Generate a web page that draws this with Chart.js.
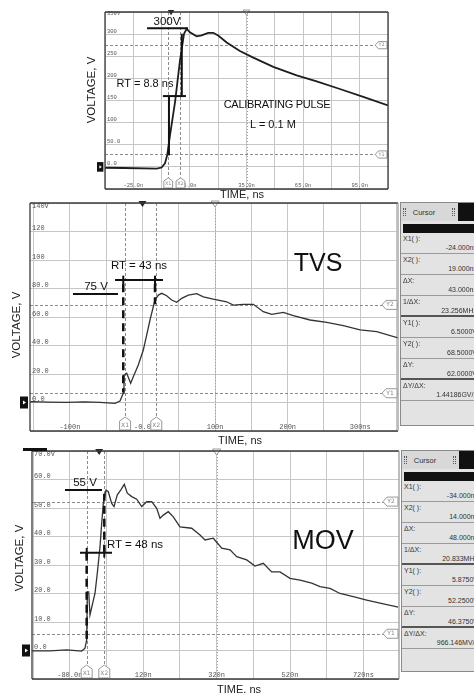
<!DOCTYPE html>
<html>
<head>
<meta charset="utf-8">
<script src="https://cdn.jsdelivr.net/npm/chart.js@4.4.1/dist/chart.umd.min.js"></script>
<style>
html, body { margin: 0; padding: 0; background: #fff; }
body { width: 474px; height: 695px; position: relative; overflow: hidden; font-family: "Liberation Sans", Arial, sans-serif; color: #111; }
canvas { position: absolute; }
.t { position: absolute; transform: translate(-50%, -50%); white-space: nowrap; line-height: 1; }
.v { transform: translate(-50%, -50%) rotate(-90deg); }
.panel { position: absolute; left: 400px; width: 82px; background: #e3e3e3; border: 1px solid #8a8a8a; font: 7px "Liberation Sans", Arial, sans-serif; color: #333; overflow: hidden; }
.hdr { position: relative; height: 18px; background: #d8d8d8; }
.hdr .nm { position: absolute; left: 23px; top: 9px; transform: translate(-50%, -50%); font-size: 7.5px; }
.hdr .g { position: absolute; top: 5px; width: 1px; height: 8px; border-left: 1px dotted #555; border-right: 1px dotted #555; }
.hdr .blk { position: absolute; left: 57px; top: 0; width: 30px; height: 18px; background: #111; }
.bar { margin: 3px 0 0 2px; height: 9px; background: #111; }
.row { position: relative; height: 20px; border-bottom: 1px solid #9a9a9a; }
.row.thick { height: 19px; border-bottom: 2px solid #555; }
.lab { position: absolute; left: 2px; top: 1px; line-height: 9px; }
.val { position: absolute; right: 6px; top: 10px; line-height: 9px; }
</style>
</head>
<body>
<canvas id="cal" width="298" height="186" style="left:95px;top:4px"></canvas>
<canvas id="tvs" width="380" height="240" style="left:20px;top:195px"></canvas>
<canvas id="mov" width="382" height="240" style="left:20px;top:443px"></canvas>

<div style="position:absolute;left:23px;top:448px;width:24px;height:3px;background:#111"></div>

<div class="t" style="left:167px;top:22px;font-size:11.5px">300V</div>
<div class="t" style="left:145px;top:83px;font-size:11px">RT = 8.8 ns</div>
<div class="t" style="left:277px;top:104px;font-size:11px;letter-spacing:-0.3px">CALIBRATING PULSE</div>
<div class="t" style="left:273px;top:124px;font-size:11px">L = 0.1 M</div>
<div class="t v" style="left:92px;top:90px;font-size:11.5px;color:#222">VOLTAGE, V</div>
<div class="t" style="left:242px;top:194px;font-size:11px;color:#222">TIME, ns</div>

<div class="t" style="left:318px;top:262px;font-size:25px">TVS</div>
<div class="t" style="left:139px;top:266px;font-size:11.5px">RT = 43 ns</div>
<div class="t" style="left:96px;top:287px;font-size:11.5px">75 V</div>
<div class="t v" style="left:17px;top:325px;font-size:11.5px;color:#222">VOLTAGE, V</div>
<div class="t" style="left:240px;top:440px;font-size:11px;color:#222">TIME, ns</div>

<div class="t" style="left:323px;top:540px;font-size:27px">MOV</div>
<div class="t" style="left:85px;top:483px;font-size:11.5px">55 V</div>
<div class="t" style="left:135px;top:545px;font-size:11.5px">RT = 48 ns</div>
<div class="t v" style="left:20px;top:558px;font-size:11.5px;color:#222">VOLTAGE, V</div>
<div class="t" style="left:239px;top:689px;font-size:11px;color:#222">TIME. ns</div>

<div class="panel" id="tvsPanel" style="top:202px;height:222px">
  <div class="hdr"><span class="g" style="left:2px"></span><span class="nm">Cursor</span><span class="g" style="left:51px"></span><span class="blk"></span></div>
  <div class="bar"></div>
</div>
<div class="panel" id="movPanel" style="top:450px;left:401px;height:220px">
  <div class="hdr"><span class="g" style="left:2px"></span><span class="nm">Cursor</span><span class="g" style="left:51px"></span><span class="blk"></span></div>
  <div class="bar"></div>
</div>

<script>
// calibrating pulse, L = 0.1 M
const calTime = [-40, -30, -12.6, -10, -8.2, -7, -5.6, -2.9, -0.3, 1.9, 3.3, 5, 8.6, 11.2, 14.7, 17.4, 20, 24.5, 31.5, 38.6, 49.2, 61.6, 72.2, 84.5, 96.9, 110];
const calVolt = [-2, -2.5, -4, -1.5, 8, 27, 70, 146, 239, 301, 312, 304, 295, 297, 303, 303, 297, 281, 262, 247, 226, 207, 193, 176, 158, 139];
const calXTicks = [-25, 5, 35, 65, 95];
const calXLabels = ['-25.0n', '5.0n', '35.0n', '65.0n', '95.0n'];
const calYTicks = [0, 50, 100, 150, 200, 250, 300, 350];
const calYLabels = ['0.0', '50.0', '100', '150', '200', '250', '300', '350V'];
const calCursorX = [-6.5, 0];
const calCursorY = [28, 275];
const calBars = [[-17.7, 313, 4, 313], [-9.3, 160, 2.9, 160], [-6.1, 160, -6.1, 26], [0.7, 301, 0.7, 158]];
const calDashes = [];

// TVS
const tvsTime = [-155, -152.7, -130, -104.4, -80, -58.6, -37.9, -31, -26.5, -25.5, -21.8, -16.3, -12.7, -5.8, 1.1, 5.8, 10.3, 17.2, 21.8, 26.5, 33.3, 40.2, 47.1, 54, 63.1, 74.7, 83.8, 97.5, 116, 125.1, 138.9, 152.7, 166.4, 178, 194, 207.8, 230.8, 253.8, 276.7, 299.7, 322.7, 352];
const tvsVolt = [0.5, 0.6, 0.3, 0.1, 0.4, 0.1, -0.6, 1, 6.5, 19.3, 20.5, 13.5, 18.1, 26.3, 36.8, 47.4, 57.9, 71.9, 75.4, 76.6, 74.9, 71.9, 70.3, 73.1, 75.4, 76.4, 74.2, 72.6, 70.7, 68.4, 68.9, 68.9, 63.7, 61.9, 63.3, 60.9, 57.9, 56.3, 53.9, 50.9, 49.7, 45.3];
const tvsXTicks = [-100, 0, 100, 200, 300];
const tvsXLabels = ['-100n', '-0.0', '100n', '200n', '300ns'];
const tvsYTicks = [0, 20, 40, 60, 80, 100, 120, 140];
const tvsYLabels = ['0.0', '20.0', '40.0', '60.0', '80.0', '100', '120', '140V'];
const tvsCursorX = [-24, 19];
const tvsCursorY = [6.5, 68.5];
const tvsBars = [[-95.8, 76.1, -33.8, 76.1], [-37.9, 86, 28.2, 86], [-26.5, 89, -26.5, 82.5], [17.2, 89, 17.2, 82.5]];
const tvsDashes = [[-26.5, 83, -26.5, 7], [17.2, 83, 17.2, 69]];

// MOV
const movTime = [-183, -179.5, -134, -88.4, -47.6, -38.6, -34, -32.3, -28.5, -25, -17.6, -11.3, -5.1, 2.3, 6.9, 11.3, 18.6, 24.9, 34.2, 40.4, 49.4, 58.7, 68.5, 76.7, 88.7, 102.3, 115.9, 129.5, 143.2, 156.8, 165.8, 174.8, 188.4, 202, 220.3, 252.1, 274.8, 288.4, 311, 333.9, 356.5, 374.8, 402, 424.6, 447.2, 470.1, 492.7, 520, 547.2, 579.1, 601.7, 629, 656.2, 692.5, 729, 765.2, 815.1];
const movVolt = [-0.1, -0.1, -0.1, 0.2, -0.2, 0.8, 3.7, 20.6, 20.6, 12.5, 16.6, 20.1, 27.1, 36.4, 44.6, 51.6, 56.3, 55.7, 51.6, 50.5, 54.6, 56.3, 58.3, 55.2, 54, 53.1, 50.5, 52.2, 52.2, 49.9, 46.4, 47.5, 48.7, 46.9, 43.4, 42.9, 40.5, 38.8, 39.4, 35.9, 35.3, 32.9, 31.8, 29.6, 30.6, 27.6, 27.6, 25.3, 24.7, 23.6, 22.4, 21.8, 20, 18.9, 17.7, 16.6, 15.2];
const movXTicks = [-80, 120, 320, 520, 720];
const movXLabels = ['-80.0n', '120n', '320n', '520n', '720ns'];
const movYTicks = [0, 10, 20, 30, 40, 50, 60, 70];
const movYLabels = ['0.0', '10.0', '20.0', '30.0', '40.0', '50.0', '60.0', '70.0V'];
const movCursorX = [-34, 14];
const movCursorY = [5.875, 52.25];
const movBars = [[-93.1, 56.3, 7.7, 56.3], [-52.2, 34.3, 35, 34.3], [-34, 36, -34, 32.6], [14, 36, 14, 32.6]];
const movDashes = [[-34, 34.3, -34, 3.7], [14, 34.3, 14, 55]];

const readoutNames = ['X1( ):', 'X2( ):', '\u0394X:', '1/\u0394X:', 'Y1( ):', 'Y2( ):', '\u0394Y:', '\u0394Y/\u0394X:'];
const tvsReadout = ['-24.000ns', '19.000ns', '43.000ns', '23.256MHz', '6.5000V', '68.5000V', '62.0000V', '1.44186GV/s'];
const movReadout = ['-34.000ns', '14.000ns', '48.000ns', '20.833MHz', '5.8750V', '52.2500V', '46.3750V', '966.146MV/s'];

function seg(ctx, x1, y1, x2, y2) {
    ctx.beginPath();
    ctx.moveTo(x1, y1);
    ctx.lineTo(x2, y2);
    ctx.stroke();
}

const scopeDecor = {
    id: 'scopeDecor',
    beforeDatasetsDraw(chart, args, o) {
        const { ctx, chartArea: a, scales: { x, y } } = chart;
        ctx.save();
        ctx.lineWidth = 1;
        ctx.strokeStyle = '#a0a0a0';
        ctx.setLineDash([1, 2]);
        const c = Math.round(x.getPixelForValue(o.center)) + 0.5;
        seg(ctx, c, a.top, c, a.bottom);
        ctx.setLineDash([3, 2]);
        ctx.strokeStyle = '#8c8c8c';
        o.cursorX.forEach((v) => {
            const p = Math.round(x.getPixelForValue(v)) + 0.5;
            seg(ctx, p, a.top, p, a.bottom);
        });
        o.cursorY.forEach((v) => {
            const p = Math.round(y.getPixelForValue(v)) + 0.5;
            seg(ctx, a.left, p, a.right, p);
        });
        ctx.restore();
    },
    afterDatasetsDraw(chart, args, o) {
        const { ctx, chartArea: a, scales: { x, y } } = chart;
        const k = o.scale;
        ctx.save();
        // annotation bars
        ctx.strokeStyle = '#111';
        ctx.lineWidth = 2;
        o.bars.forEach((b) => seg(ctx, x.getPixelForValue(b[0]), y.getPixelForValue(b[1]), x.getPixelForValue(b[2]), y.getPixelForValue(b[3])));
        ctx.lineWidth = 2.5;
        ctx.setLineDash([8, 5]);
        o.dashes.forEach((b) => seg(ctx, x.getPixelForValue(b[0]), y.getPixelForValue(b[1]), x.getPixelForValue(b[2]), y.getPixelForValue(b[3])));
        ctx.setLineDash([]);

        // cursor tags
        ctx.lineWidth = 1;
        ctx.font = (6 * k) + 'px "DejaVu Sans"';
        ctx.textAlign = 'center';
        ctx.textBaseline = 'middle';
        o.cursorX.forEach((v, i) => {
            const p = x.getPixelForValue(v);
            const b = a.bottom;
            ctx.beginPath();
            ctx.moveTo(p - 5.5 * k, b - 1);
            ctx.lineTo(p - 5.5 * k, b - 10 * k);
            ctx.lineTo(p, b - 14 * k);
            ctx.lineTo(p + 5.5 * k, b - 10 * k);
            ctx.lineTo(p + 5.5 * k, b - 1);
            ctx.closePath();
            ctx.fillStyle = '#fff';
            ctx.fill();
            ctx.strokeStyle = '#999';
            ctx.stroke();
            ctx.fillStyle = '#888';
            ctx.fillText('X' + (i + 1), p, b - 6 * k);
        });
        o.cursorY.forEach((v, i) => {
            const p = y.getPixelForValue(v);
            const r = a.right;
            ctx.beginPath();
            ctx.moveTo(r - 1, p - 4.5 * k);
            ctx.lineTo(r - 12 * k, p - 4.5 * k);
            ctx.lineTo(r - 16 * k, p);
            ctx.lineTo(r - 12 * k, p + 4.5 * k);
            ctx.lineTo(r - 1, p + 4.5 * k);
            ctx.closePath();
            ctx.fillStyle = '#fff';
            ctx.fill();
            ctx.strokeStyle = '#999';
            ctx.stroke();
            ctx.fillStyle = '#888';
            ctx.fillText('Y' + (i + 1), r - 8 * k, p);
        });

        // trigger and centre markers on the top edge
        const tp = x.getPixelForValue(o.trigger);
        ctx.beginPath();
        ctx.moveTo(tp - 4 * k, a.top - 2);
        ctx.lineTo(tp + 4 * k, a.top - 2);
        ctx.lineTo(tp, a.top + 4 * k);
        ctx.closePath();
        ctx.fillStyle = '#222';
        ctx.fill();
        const cp = x.getPixelForValue(o.center);
        ctx.beginPath();
        ctx.moveTo(cp - 4 * k, a.top - 2);
        ctx.lineTo(cp + 4 * k, a.top - 2);
        ctx.lineTo(cp, a.top + 4 * k);
        ctx.closePath();
        ctx.fillStyle = '#fff';
        ctx.fill();
        ctx.strokeStyle = '#999';
        ctx.stroke();

        // ground reference marker
        const g = y.getPixelForValue(0);
        ctx.fillStyle = '#111';
        ctx.fillRect(a.left - 10 * k, g - 6 * k, 8 * k, 12 * k);
        ctx.fillStyle = '#fff';
        ctx.beginPath();
        ctx.moveTo(a.left - 7 * k, g - 2 * k);
        ctx.lineTo(a.left - 7 * k, g + 2 * k);
        ctx.lineTo(a.left - 4 * k, g);
        ctx.closePath();
        ctx.fill();
        ctx.restore();
    },
    afterDraw(chart, args, o) {
        const { ctx, chartArea: a } = chart;
        ctx.save();
        ctx.strokeStyle = '#3a3a3a';
        ctx.lineWidth = 1.3;
        seg(ctx, a.left, a.top, a.left, a.bottom);
        seg(ctx, a.left, a.top, a.right, a.top);
        seg(ctx, a.left, a.bottom, a.right, a.bottom);
        ctx.strokeStyle = o.rightEdge;
        seg(ctx, a.right, a.top, a.right, a.bottom);
        ctx.restore();
    },
};

function zeroFit(s) {
    if (s.isHorizontal()) s.height = 0; else s.width = 0;
    s.paddingTop = 0;
    s.paddingBottom = 0;
    s.paddingLeft = 0;
    s.paddingRight = 0;
}

function range(lo, hi, step, from) {
    const out = [];
    for (let v = from; v <= hi + 1e-9; v += step) if (v >= lo - 1e-9) out.push(v);
    return out;
}

function scopeChart(id, c) {
    const xGrid = range(c.xMin, c.xMax, c.xStep, c.xFrom);
    const yGrid = range(c.yMin, c.yMax, c.yStep, c.yMin);
    const tickFont = { family: 'Liberation Mono', size: c.font, lineHeight: 1.2 };
    return new Chart(document.getElementById(id), {
        type: 'line',
        data: {
            datasets: [{
                data: c.time.map((t, i) => ({ x: t, y: c.volt[i] })),
                borderColor: c.color,
                borderWidth: c.width,
                pointRadius: 0,
                tension: 0,
                fill: false,
            }],
        },
        options: {
            responsive: false,
            animation: false,
            events: [],
            layout: { padding: c.pad },
            plugins: {
                legend: { display: false },
                tooltip: { enabled: false },
                scopeDecor: c.decor,
            },
            scales: {
                x: {
                    type: 'linear',
                    min: c.xMin,
                    max: c.xMax,
                    afterBuildTicks: (ax) => { ax.ticks = xGrid.map((v) => ({ value: v })); },
                    afterFit: zeroFit,
                    grid: { color: '#c6c6c6', lineWidth: 1, drawTicks: false },
                    border: { display: false },
                    ticks: {
                        mirror: true,
                        padding: 0,
                        autoSkip: false,
                        maxRotation: 0,
                        font: tickFont,
                        color: '#555',
                        callback: (v) => {
                            const i = c.xTicks.indexOf(v);
                            return i < 0 ? '' : c.xLabels[i];
                        },
                    },
                },
                y: {
                    min: c.yMin,
                    max: c.yMax,
                    afterBuildTicks: (ax) => { ax.ticks = yGrid.map((v) => ({ value: v })); },
                    afterFit: zeroFit,
                    grid: { color: '#c6c6c6', lineWidth: 1, drawTicks: false },
                    border: { display: false },
                    ticks: {
                        mirror: true,
                        padding: 2,
                        autoSkip: false,
                        labelOffset: -3,
                        font: { family: 'Liberation Mono', size: c.font, lineHeight: 1.8 },
                        color: '#555',
                        callback: (v) => {
                            const i = c.yTicks.indexOf(v);
                            if (i < 0) return '';
                            return v === c.yMax ? ['', c.yLabels[i]] : c.yLabels[i];
                        },
                    },
                },
            },
        },
        plugins: [scopeDecor],
    });
}

scopeChart('cal', {
    time: calTime, volt: calVolt, color: '#1e1e1e', width: 1.8,
    xMin: -40, xMax: 110, xStep: 15, xFrom: -40,
    yMin: -50, yMax: 350, yStep: 50,
    xTicks: calXTicks, xLabels: calXLabels, yTicks: calYTicks, yLabels: calYLabels,
    font: 5.5,
    pad: { left: 10, top: 8, right: 5, bottom: 1 },
    decor: { cursorX: calCursorX, cursorY: calCursorY, bars: calBars, dashes: calDashes, trigger: -5, center: 35, scale: 0.8, rightEdge: '#3a3a3a' },
});

scopeChart('tvs', {
    time: tvsTime, volt: tvsVolt, color: '#333', width: 1.3,
    xMin: -155, xMax: 352, xStep: 50, xFrom: -150,
    yMin: -20, yMax: 140, yStep: 20,
    xTicks: tvsXTicks, xLabels: tvsXLabels, yTicks: tvsYTicks, yLabels: tvsYLabels,
    font: 7,
    pad: { left: 10, top: 8, right: 2, bottom: 4 },
    decor: { cursorX: tvsCursorX, cursorY: tvsCursorY, bars: tvsBars, dashes: tvsDashes, trigger: 0, center: 100, scale: 1, rightEdge: '#9a9a9a' },
});

scopeChart('mov', {
    time: movTime, volt: movVolt, color: '#333', width: 1.3,
    xMin: -183, xMax: 817, xStep: 100, xFrom: -180,
    yMin: -10, yMax: 70, yStep: 10,
    xTicks: movXTicks, xLabels: movXLabels, yTicks: movYTicks, yLabels: movYLabels,
    font: 7,
    pad: { left: 12, top: 8, right: 3, bottom: 4 },
    decor: { cursorX: movCursorX, cursorY: movCursorY, bars: movBars, dashes: movDashes, trigger: 0, center: 320, scale: 1, rightEdge: '#9a9a9a' },
});

// cursor read-out panels
function buildPanel(id, values) {
    const p = document.getElementById(id);
    values.forEach((v, i) => {
        const r = document.createElement('div');
        r.className = 'row' + (i === 3 || i === 6 ? ' thick' : '');
        const l = document.createElement('div');
        l.className = 'lab';
        l.textContent = readoutNames[i];
        const d = document.createElement('div');
        d.className = 'val';
        d.textContent = v;
        r.appendChild(l);
        r.appendChild(d);
        p.appendChild(r);
    });
}
buildPanel('tvsPanel', tvsReadout);
buildPanel('movPanel', movReadout);
</script>
</body>
</html>
